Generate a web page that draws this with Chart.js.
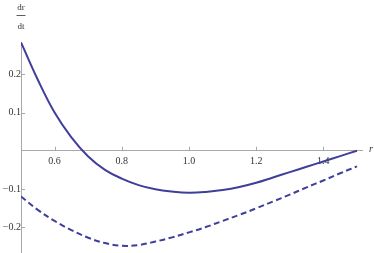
<!DOCTYPE html>
<html>
<head>
<meta charset="utf-8">
<script src="https://cdn.jsdelivr.net/npm/chart.js@4"></script>
<style>
html,body{margin:0;padding:0;background:#fff;}
canvas{display:block;}
</style>
</head>
<body>
<canvas id="c" width="374" height="253"></canvas>
<script>
// ---- data ----
const rValues = [0.5,0.55,0.6,0.65,0.7,0.75,0.8,0.85,0.9,0.95,1.0,1.05,1.1,1.15,1.2,1.25,1.3,1.35,1.4,1.45,1.5];
const solidValues = [0.284,0.186,0.100,0.035,-0.015,-0.050,-0.073,-0.090,-0.101,-0.107,-0.110,-0.108,-0.103,-0.095,-0.084,-0.070,-0.056,-0.042,-0.028,-0.014,0.0];
const dashedValues = [-0.120,-0.155,-0.184,-0.208,-0.228,-0.242,-0.249,-0.247,-0.238,-0.227,-0.214,-0.200,-0.184,-0.168,-0.151,-0.133,-0.115,-0.096,-0.078,-0.059,-0.041];
const xTickLabels = ['0.6','0.8','1.0','1.2','1.4'];
const yTickLabels = ['-0.2','-0.1','0.1','0.2'];
const xMinorStep = 0.05;
const yMinorStep = 0.02;

const LINE = '#3f3f9a';
const AXIS = '#a8a8a8';
const TEXT = '#333';
const SERIF = '"Liberation Serif", "DejaVu Serif", serif';

function toPoints(vals){ return rValues.map((r,i)=>({x:r,y:vals[i]})); }
const xMajor = xTickLabels.map(Number);
const yMajor = yTickLabels.map(Number);
const near = (a,b)=>Math.abs(a-b)<1e-6;

const tickPlugin = {
  id:'mmaTicks',
  afterDraw(chart){
    const ctx = chart.ctx, xs = chart.scales.x, ys = chart.scales.y;
    const y0 = ys.getPixelForValue(0), x0 = xs.getPixelForValue(0.5);
    ctx.save();
    ctx.strokeStyle = AXIS; ctx.lineWidth = 1;
    ctx.beginPath();
    xs.ticks.forEach(t=>{
      if (near(t.value,0.5)) return;
      const px = Math.round(xs.getPixelForValue(t.value))+0.5;
      const len = xMajor.some(v=>near(v,t.value)) ? 4 : 2.5;
      ctx.moveTo(px,y0); ctx.lineTo(px,y0-len);
    });
    ys.ticks.forEach(t=>{
      if (near(t.value,0)) return;
      const py = Math.round(ys.getPixelForValue(t.value))+0.5;
      const len = yMajor.some(v=>near(v,t.value)) ? 4 : 2.5;
      ctx.moveTo(x0,py); ctx.lineTo(x0+len,py);
    });
    ctx.stroke();
    // axis labels
    ctx.fillStyle = TEXT;
    ctx.textAlign = 'center';
    ctx.textBaseline = 'alphabetic';
    ctx.font = '9px ' + SERIF;
    ctx.fillText('dr', x0, 10);
    ctx.fillText('dt', x0, 29);
    ctx.beginPath();
    ctx.strokeStyle = TEXT; ctx.lineWidth = 0.8;
    ctx.moveTo(x0-4.5, 15.5); ctx.lineTo(x0+4.5, 15.5);
    ctx.stroke();
    ctx.font = 'italic 10px ' + SERIF;
    ctx.textAlign = 'left';
    ctx.textBaseline = 'middle';
    ctx.fillText('r', xs.right + 7, y0 - 1);
    ctx.restore();
  }
};

new Chart(document.getElementById('c'), {
  type:'line',
  data:{
    datasets:[
      {data:toPoints(solidValues), borderColor:LINE, borderWidth:2, pointRadius:0, tension:0.4, fill:false},
      {data:toPoints(dashedValues), borderColor:LINE, borderWidth:2, borderDash:[6,3.5], pointRadius:0, tension:0.4, fill:false}
    ]
  },
  options:{
    responsive:false,
    animation:false,
    devicePixelRatio:1,
    layout:{padding:{left:21,right:12,top:42,bottom:0}},
    plugins:{legend:{display:false},tooltip:{enabled:false}},
    scales:{
      x:{
        type:'linear', min:0.5, max:1.515,
        position:{y:0},
        afterFit(s){ s.height = 0; s.paddingLeft = 0; s.paddingRight = 0; },
        afterBuildTicks(s){
          const t=[]; for(let i=0;i<=20;i++){ t.push({value: Math.round((0.5+i*xMinorStep)*1000)/1000}); }
          s.ticks=t;
        },
        grid:{display:false, drawTicks:false},
        border:{display:true, color:AXIS, width:1},
        ticks:{
          autoSkip:false, maxRotation:0, padding:5, color:TEXT,
          font:{family:SERIF, size:10},
          callback(v){ const i = xMajor.findIndex(m=>near(m,v)); return i>=0 ? xTickLabels[i] : null; }
        }
      },
      y:{
        type:'linear', min:-0.268, max:0.285,
        position:{x:0.5},
        afterFit(s){ s.width = 0; s.paddingTop = 0; s.paddingBottom = 0; },
        afterBuildTicks(s){
          const t=[]; for(let i=-13;i<=14;i++){ t.push({value: Math.round(i*yMinorStep*1000)/1000}); }
          s.ticks=t;
        },
        grid:{display:false, drawTicks:false},
        border:{display:true, color:AXIS, width:1},
        ticks:{
          autoSkip:false, padding:4, color:TEXT,
          font:{family:SERIF, size:10},
          callback(v){ const i = yMajor.findIndex(m=>near(m,v)); return i>=0 ? yTickLabels[i].replace('-','\u2212') : null; }
        }
      }
    }
  },
  plugins:[tickPlugin]
});
</script>
</body>
</html>
